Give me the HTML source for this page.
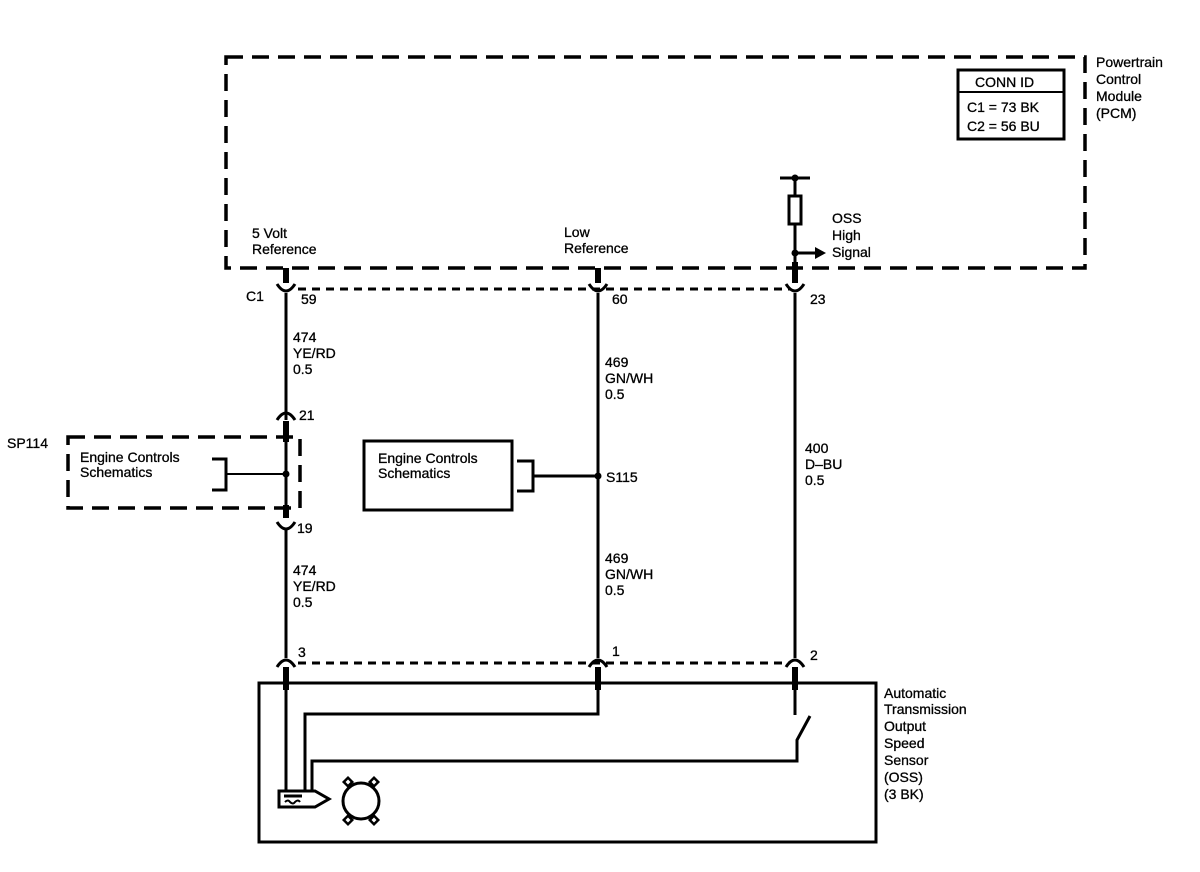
<!DOCTYPE html>
<html><head><style>body{margin:0;background:#fff}svg{display:block}text{font-family:"Liberation Sans",sans-serif;font-size:14px;fill:#000;stroke:#000;stroke-width:0.3}</style></head><body>
<svg width="1200" height="872" viewBox="0 0 1200 872" xmlns="http://www.w3.org/2000/svg">
<g fill="none" stroke="#000">
<rect x="226" y="57" width="859" height="211" stroke-width="3.5" stroke-dasharray="17,9"/>
<line x1="298" y1="289" x2="790" y2="289" stroke-width="3" stroke-dasharray="8,6"/>
<line x1="298" y1="663" x2="790" y2="663" stroke-width="3" stroke-dasharray="8,6"/>
<rect x="68" y="437" width="232" height="71" stroke-width="3.5" stroke-dasharray="17,9"/>
<rect x="958" y="70" width="106" height="69" stroke-width="3"/>
<line x1="958" y1="92" x2="1064" y2="92" stroke-width="2"/>
<rect x="364" y="441" width="148" height="69" stroke-width="3"/>
<rect x="259" y="683" width="617" height="159" stroke-width="3"/>
<g stroke-width="6">
<line x1="286" y1="268" x2="286" y2="283"/><line x1="598" y1="268" x2="598" y2="283"/><line x1="795" y1="262" x2="795" y2="283"/>
<line x1="286" y1="421" x2="286" y2="442"/><line x1="286" y1="505" x2="286" y2="518"/>
<line x1="286" y1="667" x2="286" y2="690"/><line x1="598" y1="667" x2="598" y2="690"/><line x1="795" y1="667" x2="795" y2="690"/>
</g>
<g stroke-width="3">
<path d="M277,284 Q286,298 295,284"/><path d="M589,284 Q598,298 607,284"/><path d="M786,284 Q795,298 804,284"/>
<path d="M277,522 Q286,536 295,522"/>
<path d="M277,420 Q286,406 295,420"/>
<path d="M277,667 Q286,653 295,667"/><path d="M589,667 Q598,653 607,667"/><path d="M786,667 Q795,653 804,667"/>
</g>
<g stroke-width="3">
<line x1="286" y1="293" x2="286" y2="420"/><line x1="286" y1="440" x2="286" y2="508"/><line x1="286" y1="530" x2="286" y2="658"/>
<line x1="598" y1="293" x2="598" y2="658"/><line x1="795" y1="293" x2="795" y2="658"/>
<line x1="795" y1="177" x2="795" y2="268"/><line x1="780" y1="178" x2="810" y2="178"/>
<line x1="795" y1="253" x2="815" y2="253"/>
<line x1="286" y1="690" x2="286" y2="790"/>
<path d="M598,690 V714 H305 V790"/>
<path d="M795,690 V715"/><path d="M810,716 L797,740 V761 H312 V790"/>
<path d="M212,459 H226 V490 H212"/><line x1="226" y1="474" x2="286" y2="474" stroke-width="2"/>
<path d="M517,461 H533 V491 H517"/><line x1="533" y1="476" x2="598" y2="476"/>
<path d="M279,791 H315 L329,799 L315,807 H279 Z"/>
<line x1="284" y1="796" x2="302" y2="796"/>
<circle cx="361" cy="801" r="18"/>
</g>
<rect x="789" y="196" width="12" height="28" fill="#fff" stroke-width="3"/>
<path d="M285,802 q3,-3 5,0 q3,3 5,0 q3,-3 5,0" stroke-width="2"/>
<g stroke-width="2.5" fill="#fff">
<rect x="345" y="779" width="6" height="6" transform="rotate(45 348 782)"/><rect x="371" y="779" width="6" height="6" transform="rotate(45 374 782)"/>
<rect x="345" y="817" width="6" height="6" transform="rotate(45 348 820)"/><rect x="371" y="817" width="6" height="6" transform="rotate(45 374 820)"/>
</g>
</g>
<polygon points="815,247 826,253 815,259" fill="#000"/>
<circle cx="795" cy="178" r="3.5"/><circle cx="795" cy="253" r="3.5"/>
<circle cx="286" cy="474" r="3.5"/><circle cx="598" cy="476" r="3.5"/>
<text x="1096" y="67">Powertrain</text><text x="1096" y="84">Control</text><text x="1096" y="101">Module</text><text x="1096" y="118">(PCM)</text>
<text x="975" y="87">CONN ID</text><text x="967" y="112">C1 = 73 BK</text><text x="967" y="131">C2 = 56 BU</text>
<text x="252" y="238">5 Volt</text><text x="252" y="254">Reference</text>
<text x="564" y="237">Low</text><text x="564" y="253">Reference</text>
<text x="832" y="223">OSS</text><text x="832" y="240">High</text><text x="832" y="257">Signal</text>
<text x="246" y="301">C1</text><text x="301" y="304">59</text><text x="612" y="304">60</text><text x="810" y="304">23</text>
<text x="293" y="342">474</text><text x="293" y="358">YE/RD</text><text x="293" y="374">0.5</text>
<text x="605" y="367">469</text><text x="605" y="383">GN/WH</text><text x="605" y="399">0.5</text>
<text x="805" y="453">400</text><text x="805" y="469">D–BU</text><text x="805" y="485">0.5</text>
<text x="299" y="420">21</text><text x="7" y="448">SP114</text>
<text x="80" y="462">Engine Controls</text><text x="80" y="477">Schematics</text>
<text x="378" y="463">Engine Controls</text><text x="378" y="478">Schematics</text>
<text x="606" y="482">S115</text><text x="297" y="533">19</text>
<text x="293" y="575">474</text><text x="293" y="591">YE/RD</text><text x="293" y="607">0.5</text>
<text x="605" y="563">469</text><text x="605" y="579">GN/WH</text><text x="605" y="595">0.5</text>
<text x="298" y="657">3</text><text x="612" y="656">1</text><text x="810" y="660">2</text>
<text x="884" y="698">Automatic</text><text x="884" y="714">Transmission</text><text x="884" y="731">Output</text><text x="884" y="748">Speed</text><text x="884" y="765">Sensor</text><text x="884" y="782">(OSS)</text><text x="884" y="799">(3 BK)</text>
</svg>
</body></html>
